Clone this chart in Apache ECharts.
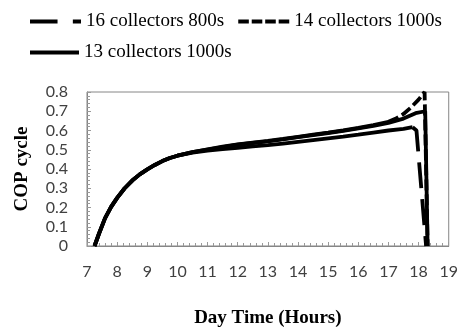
<!DOCTYPE html>
<html>
<head>
<meta charset="utf-8">
<script src="https://cdn.jsdelivr.net/npm/echarts@6/dist/echarts.min.js"></script>
<style>html,body{margin:0;padding:0;background:#fff}#c{width:461px;height:329px}</style>
</head>
<body>
<div id="c"></div>
<script>
var xTicks = [7, 8, 9, 10, 11, 12, 13, 14, 15, 16, 17, 18, 19];
var yTicks = [0, 0.1, 0.2, 0.3, 0.4, 0.5, 0.6, 0.7, 0.8];

var hours16 = [7.25, 7.4, 7.6, 7.8, 8.0, 8.25, 8.5, 8.75, 9.0, 9.25, 9.5, 9.75, 10.0, 10.5, 11.0, 11.5, 12.0, 12.5, 13.0, 13.5, 14.0, 14.5, 15.0, 15.5, 16.0, 16.5, 17.0, 17.5, 17.8, 17.93, 18.25];
var cop16   = [0, 0.065, 0.145, 0.203, 0.25, 0.30, 0.34, 0.372, 0.398, 0.421, 0.441, 0.457, 0.469, 0.485, 0.496, 0.503, 0.510, 0.517, 0.524, 0.532, 0.541, 0.550, 0.559, 0.568, 0.578, 0.589, 0.600, 0.608, 0.617, 0.600, 0];

var hours14 = [7.25, 7.4, 7.6, 7.8, 8.0, 8.25, 8.5, 8.75, 9.0, 9.25, 9.5, 9.75, 10.0, 10.5, 11.0, 11.5, 12.0, 12.5, 13.0, 13.5, 14.0, 14.5, 15.0, 15.5, 16.0, 16.5, 17.0, 17.25, 17.5, 17.75, 18.0, 18.2, 18.3];
var cop14   = [0, 0.065, 0.145, 0.203, 0.25, 0.30, 0.34, 0.372, 0.398, 0.421, 0.441, 0.457, 0.469, 0.488, 0.502, 0.516, 0.528, 0.537, 0.546, 0.556, 0.567, 0.578, 0.589, 0.601, 0.614, 0.628, 0.645, 0.662, 0.686, 0.720, 0.760, 0.800, 0];

var hours13 = [7.25, 7.4, 7.6, 7.8, 8.0, 8.25, 8.5, 8.75, 9.0, 9.25, 9.5, 9.75, 10.0, 10.5, 11.0, 11.5, 12.0, 12.5, 13.0, 13.5, 14.0, 14.5, 15.0, 15.5, 16.0, 16.5, 17.0, 17.5, 17.9, 18.22, 18.3];
var cop13   = [0, 0.065, 0.145, 0.203, 0.25, 0.30, 0.34, 0.372, 0.398, 0.421, 0.441, 0.457, 0.469, 0.488, 0.501, 0.514, 0.526, 0.535, 0.544, 0.554, 0.565, 0.576, 0.587, 0.598, 0.611, 0.624, 0.640, 0.662, 0.690, 0.700, 0];

function pairs(xs, ys, from, to) {
  var out = [];
  for (var i = from; i <= to; i++) out.push([xs[i], ys[i]]);
  return out;
}

var split16 = 28;  // index where long-dash pattern becomes visible (drop)
var split14 = 26;  // index where short-dash pattern becomes visible

var chart = echarts.init(document.getElementById('c'), null, {renderer: 'canvas'});
var axisLabelStyle = {fontFamily: 'Lato', fontSize: 16, color: '#404040'};
var titleStyle = {fontFamily: 'Liberation Serif', fontSize: 19, fontWeight: 'bold', color: '#000'};
var legendText = {fontFamily: 'Liberation Serif', fontSize: 19, color: '#000'};
var dash16 = [26, 11], dash14 = [11, 4];

var icon16 = 'path://M0,0h27v4h-27z M42,0h8v4h-8z';
var icon14 = 'path://M0,0h11v4h-11z M14,0h11v4h-11z M28,0h11v4h-11z M42,0h11v4h-11z';
var icon13 = 'path://M0,0h48v4h-48z';

chart.setOption({
  animation: false,
  backgroundColor: '#fff',
  grid: {left: 87, right: 10, top: 92, bottom: 82, show: true, borderColor: '#868686', borderWidth: 1},
  legend: [
    {data: [{name: '16 collectors 800s', icon: icon16}, {name: '14 collectors 1000s', icon: icon14}],
     left: 30, top: 12, padding: 0, symbolKeepAspect: false,
     itemWidth: 51, itemHeight: 4, itemGap: 14, itemStyle: {color: '#000'},
     textStyle: legendText},
    {data: [{name: '13 collectors 1000s', icon: icon13}], left: 30, top: 43, padding: 0, symbolKeepAspect: false,
     itemWidth: 49, itemHeight: 4, itemStyle: {color: '#000'},
     textStyle: legendText}
  ],
  xAxis: {
    type: 'value', min: xTicks[0], max: xTicks[xTicks.length - 1], interval: 1,
    name: 'Day Time (Hours)', nameLocation: 'middle', nameGap: 63, nameTextStyle: titleStyle,
    axisLine: {show: true, lineStyle: {color: '#868686', width: 1}},
    axisTick: {show: true, inside: true, length: 4, lineStyle: {color: '#999'}},
    minorTick: {show: true, splitNumber: 5, length: 3, lineStyle: {color: '#999'}},
    splitLine: {show: false},
    axisLabel: Object.assign({margin: 18}, axisLabelStyle)
  },
  yAxis: {
    type: 'value', min: yTicks[0], max: yTicks[yTicks.length - 1], interval: 0.1,
    name: 'COP cycle', nameLocation: 'middle', nameGap: 55, nameTextStyle: titleStyle,
    axisLine: {show: true, lineStyle: {color: '#868686', width: 1}},
    axisTick: {show: true, inside: true, length: 4, lineStyle: {color: '#999'}},
    minorTick: {show: true, splitNumber: 5, length: 3, lineStyle: {color: '#999'}},
    splitLine: {show: false},
    axisLabel: Object.assign({margin: 19, formatter: function (v) { return v === 0 ? '0' : v.toFixed(1); }}, axisLabelStyle)
  },
  series: [
    {type: 'line', name: '16 body', data: pairs(hours16, cop16, 0, split16), symbol: 'none', silent: true,
     lineStyle: {color: '#000', width: 3.8}},
    {type: 'line', name: '16 collectors 800s', data: pairs(hours16, cop16, split16, hours16.length - 1), symbol: 'none',
     lineStyle: {color: '#000', width: 3.8, type: dash16, cap: 'butt'}, itemStyle: {color: '#000'}},
    {type: 'line', name: '13 collectors 1000s', data: pairs(hours13, cop13, 0, hours13.length - 1), symbol: 'none',
     lineStyle: {color: '#000', width: 3.8}, itemStyle: {color: '#000'}},
    {type: 'line', name: '14 body', data: pairs(hours14, cop14, 0, split14), symbol: 'none', silent: true,
     lineStyle: {color: '#000', width: 3.8}},
    {type: 'line', name: '14 collectors 1000s', data: pairs(hours14, cop14, split14, hours14.length - 1), symbol: 'none',
     lineStyle: {color: '#000', width: 3.8, type: dash14, cap: 'butt'}, itemStyle: {color: '#000'}}
  ]
});
</script>
</body>
</html>
